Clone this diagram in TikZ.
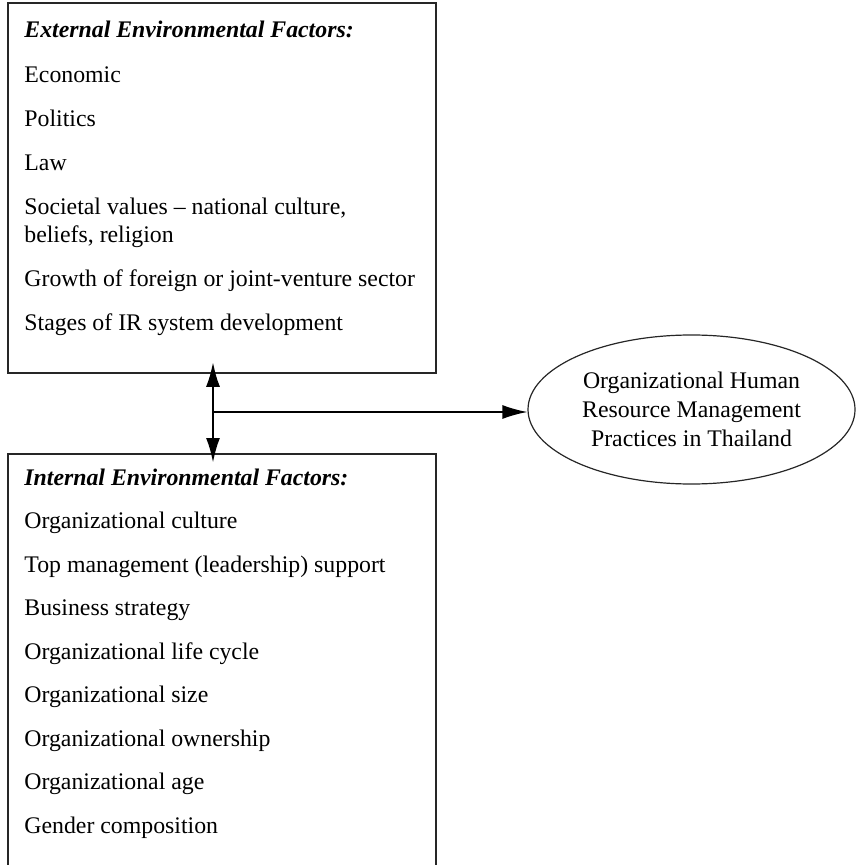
\documentclass[tikz,border=0pt]{standalone}
\usepackage{fontspec}
\setmainfont{Liberation Serif}
\usetikzlibrary{arrows.meta,positioning,shapes.geometric}

\tikzset{
  factorbox/.style={draw=black!85, line width=0.9pt, minimum width=214pt, anchor=north west, inner sep=0pt},
  item/.style={anchor=base west, inner sep=0pt, font=\fontsize{11.9}{14}\selectfont},
  head/.style={item, font=\fontsize{11.9}{14}\selectfont\bfseries\itshape},
  hrmnode/.style={ellipse, draw=black!85, line width=0.6pt, minimum width=163.5pt, minimum height=74.5pt, inner sep=0pt, align=center, font=\fontsize{11.9}{14.5}\selectfont},
  tip/.style={-{Latex[length=12.5pt,width=7pt]}},
  dtip/.style={{Latex[length=12.5pt,width=7pt]}-{Latex[length=12.5pt,width=7pt]}}
}

\begin{document}
\begin{tikzpicture}[x=0.5pt, y=-0.5pt]
  \useasboundingbox (0,0) rectangle (857,865);
  \clip (0,0) rectangle (857,865);

  % External factors box
  \node[factorbox, minimum height=185pt] (ext) at (7,2) {};
  \node[head] (exth) at (24,38) {External Environmental Factors:};
  \node[item] (ext1) at (24,83)  {Economic};
  \node[item] (ext2) at (24,127) {Politics};
  \node[item] (ext3) at (24,171) {Law};
  \node[item] (ext4) at (24,215) {Societal values -- national culture,};
  \node[item] (ext4b) at (24,243) {beliefs, religion};
  \node[item] (ext5) at (24,287) {Growth of foreign or joint-venture sector};
  \node[item] (ext6) at (24,331) {Stages of IR system development};

  % Internal factors box
  \node[factorbox, minimum height=215pt] (int) at (7,453) {};
  \node[head] (inth) at (24,485) {Internal Environmental Factors:};
  \node[item] (int1) at (24,528.5) {Organizational culture};
  \node[item] (int2) at (24,572)   {Top management (leadership) support};
  \node[item] (int3) at (24,615.5) {Business strategy};
  \node[item] (int4) at (24,659)   {Organizational life cycle};
  \node[item] (int5) at (24,702.5) {Organizational size};
  \node[item] (int6) at (24,746)   {Organizational ownership};
  \node[item] (int7) at (24,789.5) {Organizational age};
  \node[item] (int8) at (24,833)   {Gender composition};

  % HRM practices
  \node[hrmnode] (hrm) at (691.5,409.5) {Organizational Human\\Resource Management\\Practices in Thailand};

  % Arrows
  \coordinate (junc) at (213,412);
  \draw[dtip, line width=1.3pt] ([yshift=6pt]ext.south -| junc) -- ([yshift=-5pt]int.north -| junc);
  \draw[tip, line width=0.8pt] (junc) -- (junc -| hrm.west);
\end{tikzpicture}
\end{document}
